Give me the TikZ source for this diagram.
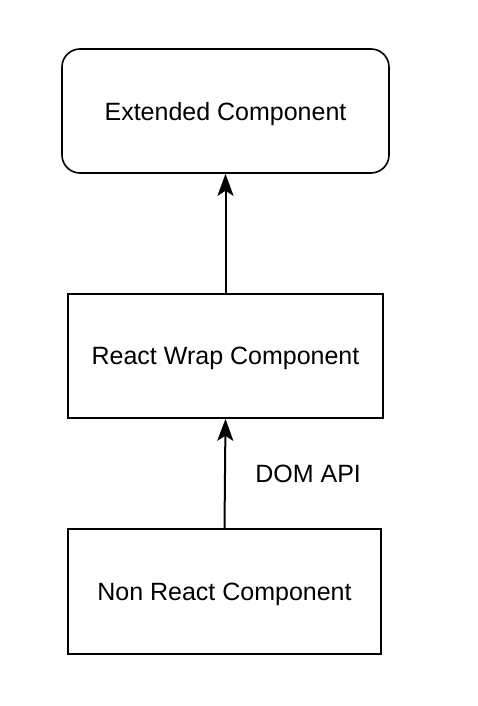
\documentclass[tikz,border=0pt]{standalone}
\usepackage{fontspec}
\setmainfont{Liberation Sans}
\usetikzlibrary{arrows.meta}

\begin{document}
\begin{tikzpicture}[x=1pt,y=-1pt,
		comp/.style={draw, line width=1.6pt, minimum height=124pt, text depth=0pt, font=\fontsize{25}{30}\selectfont},
		link/.style={draw, line width=2pt, -{Stealth[length=22pt,width=16pt,inset=5pt]}}]
		\useasboundingbox (0,0) rectangle (477,706);
		\node[comp, rounded corners=18pt, minimum width=327pt] (ext) at (225.5,111) {Extended Component};
		\node[comp, minimum width=315pt] (wrap) at (225.5,356) {React Wrap Component};
		\node[comp, minimum width=313pt, minimum height=125pt] (nonreact) at (224.5,591.5) {Non React Component};
		\draw[link] (wrap.north) -- (ext.south);
		\draw[link] (nonreact.north) -- (wrap.south) node[midway, right=26pt, font=\fontsize{25}{30}\selectfont]{DOM API};
	\end{tikzpicture}
\end{document}
